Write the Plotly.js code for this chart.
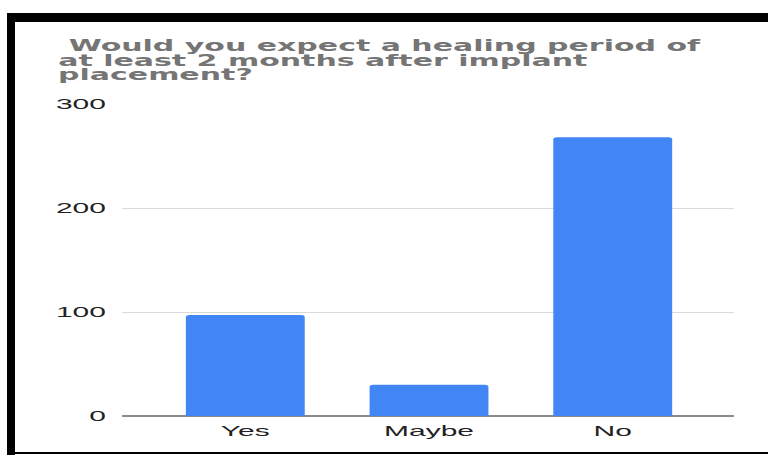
<!DOCTYPE html>
<html>
<head>
<meta charset="utf-8">
<script src="https://cdn.plot.ly/plotly-3.0.1.min.js"></script>
<style>
  html, body { margin: 0; padding: 0; background: #ffffff; width: 768px; height: 455px; overflow: hidden; }
  #wrap { position: absolute; left: 0; top: 0; width: 384px; height: 455px; transform: scaleX(2); transform-origin: 0 0; }
  #chart { width: 384px; height: 455px; }
  .bar-top { position: absolute; left: 7px; top: 13px; width: 761px; height: 9px; background: #000; }
  .bar-left { position: absolute; left: 7px; top: 13px; width: 8px; height: 442px; background: #000; }
  .bar-bottom { position: absolute; left: 7px; top: 452px; width: 761px; height: 2px; background: #000; }
</style>
</head>
<body>
<div id="wrap"><div id="chart"></div></div>
<div class="bar-top"></div>
<div class="bar-left"></div>
<div class="bar-bottom"></div>
<script>
const categories = ["Yes", "Maybe", "No"];
const responses = [97, 30, 268];
const yTickValues = [0, 100, 200, 300];
const yTickLabels = ["0", "100", "200", "300"];
const titleLines = [
  "\u00a0Would you expect a healing period of",
  "at least 2 months after implant",
  "placement?"
];

const titleYs = [1.1865, 1.1385, 1.0936];

const trace = {
  type: "bar",
  x: categories,
  y: responses,
  marker: { color: "#4285F4", cornerradius: 2, line: { width: 0 } },
  hoverinfo: "none"
};

const layout = {
  width: 384,
  height: 455,
  margin: { l: 60.5, r: 17, t: 104, b: 39, pad: 0 },
  paper_bgcolor: "rgba(0,0,0,0)",
  plot_bgcolor: "rgba(0,0,0,0)",
  showlegend: false,
  bargap: 0.353,
  font: { family: "Liberation Sans, Arial, sans-serif", size: 15, color: "#222222" },
  xaxis: {
    type: "category",
    range: [-0.671, 2.66],
    showgrid: false,
    showline: false,
    zeroline: false,
    ticks: "",
    ticklabelstandoff: 4,
    tickfont: { family: "Liberation Sans, Arial, sans-serif", size: 15, color: "#222222" }
  },
  yaxis: {
    range: [0, 300],
    tickvals: yTickValues,
    ticktext: yTickLabels,
    showgrid: true,
    gridcolor: "#d9d9d9",
    gridwidth: 1,
    zeroline: true,
    zerolinecolor: "#8a8a8a",
    zerolinewidth: 2,
    showline: false,
    ticks: "",
    ticklabelstandoff: 7,
    tickfont: { family: "Liberation Sans, Arial, sans-serif", size: 15, color: "#222222" }
  },
  annotations: titleLines.map((t, i) => ({
    text: t,
    xref: "paper",
    yref: "paper",
    x: -0.111,
    y: titleYs[i],
    xanchor: "left",
    yanchor: "middle",
    showarrow: false,
    font: { family: "DejaVu Sans, sans-serif", size: 15, color: "#757575", weight: "bold" }
  }))
};

Plotly.newPlot("chart", [trace], layout, { staticPlot: true, displayModeBar: false });
</script>
</body>
</html>
